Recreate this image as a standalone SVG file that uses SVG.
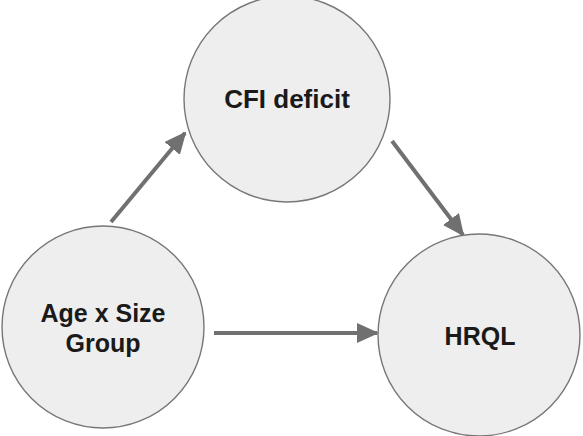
<svg xmlns="http://www.w3.org/2000/svg" width="583" height="436" viewBox="0 0 583 436">
<style>
.node{fill:#eeeeee;stroke:#777777;stroke-width:1.4}
.lbl{font-family:"Liberation Sans",Arial,sans-serif;font-weight:bold;font-size:26px;fill:#1a1a1a;text-anchor:middle}
.edge{stroke:#707070;stroke-width:4;fill:none;marker-end:url(#ah)}
</style>
<defs>
<marker id="ah" markerUnits="userSpaceOnUse" markerWidth="22" markerHeight="20" refX="20" refY="10" orient="auto">
<path d="M0,0 L22,10 L0,20 Z" fill="#707070"/>
</marker>
</defs>
<g id="connectors">
<line class="edge" x1="111" y1="222" x2="185" y2="133"/>
<line class="edge" x1="392" y1="141" x2="463" y2="235"/>
<line class="edge" x1="214" y1="333" x2="377" y2="333"/>
</g>
<g id="cfi">
<circle class="node" cx="287" cy="99" r="103"/>
<text class="lbl" x="287" y="108">CFI deficit</text>
</g>
<g id="age">
<circle class="node" cx="103" cy="327" r="101"/>
<text class="lbl" x="103" y="322" style="font-size:25px">Age x Size</text>
<text class="lbl" x="103" y="352" style="font-size:25px">Group</text>
</g>
<g id="hrql">
<circle class="node" cx="479" cy="335" r="101"/>
<text class="lbl" x="480" y="345" style="font-size:25px">HRQL</text>
</g>
</svg>
